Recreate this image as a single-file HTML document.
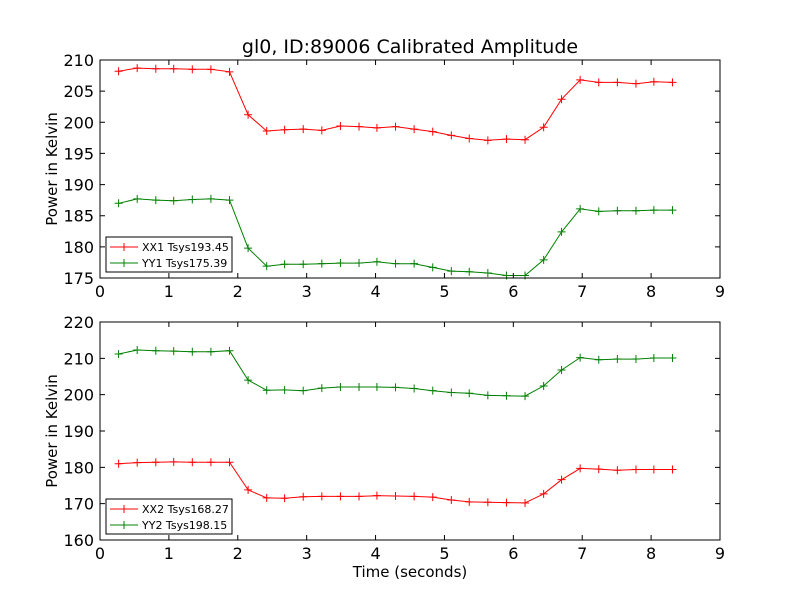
<!DOCTYPE html>
<html><head><meta charset="utf-8"><style>
body{margin:0;background:#fff}
svg{font-family:"DejaVu Sans","Liberation Sans",sans-serif}
</style></head><body>
<svg id="c" width="800" height="600" xmlns="http://www.w3.org/2000/svg">
<rect width="800" height="600" fill="#fff"/>
</svg>
<script>
const times = [0.27,0.54,0.81,1.07,1.34,1.61,1.88,2.15,2.42,2.68,2.95,3.22,3.49,3.76,4.02,4.29,4.56,4.83,5.1,5.36,5.63,5.9,6.17,6.44,6.7,6.97,7.24,7.51,7.78,8.04,8.31];
const xx1 = [208.2,208.7,208.6,208.6,208.5,208.5,208.1,201.2,198.6,198.8,198.9,198.7,199.4,199.3,199.1,199.3,198.9,198.5,197.9,197.4,197.1,197.3,197.2,199.2,203.7,206.8,206.4,206.4,206.2,206.5,206.4];
const yy1 = [187.0,187.7,187.5,187.4,187.6,187.7,187.5,179.8,176.9,177.2,177.2,177.3,177.4,177.4,177.6,177.3,177.3,176.7,176.1,176.0,175.8,175.4,175.4,177.9,182.4,186.1,185.7,185.8,185.8,185.9,185.9];
const xx2 = [181.0,181.3,181.4,181.5,181.4,181.4,181.4,173.8,171.6,171.5,171.9,172.0,172.0,172.0,172.2,172.1,172.0,171.8,171.0,170.5,170.4,170.3,170.2,172.7,176.6,179.7,179.5,179.2,179.4,179.4,179.4];
const yy2 = [211.2,212.3,212.1,212.0,211.8,211.8,212.1,204.0,201.2,201.3,201.1,201.8,202.1,202.1,202.1,202.0,201.7,201.1,200.6,200.4,199.8,199.7,199.6,202.4,206.8,210.2,209.6,209.8,209.8,210.1,210.1];
const xTicks = [0,1,2,3,4,5,6,7,8,9];
const yTicksTop = [175,180,185,190,195,200,205,210];
const yTicksBot = [160,170,180,190,200,210,220];
const legendTop = ["XX1 Tsys193.45","YY1 Tsys175.39"];
const legendBot = ["XX2 Tsys168.27","YY2 Tsys198.15"];

const NS="http://www.w3.org/2000/svg";
const svg=document.getElementById('c');
function mk(tag,attrs,parent){const e=document.createElementNS(NS,tag);for(const k in attrs)e.setAttribute(k,attrs[k]);(parent||svg).appendChild(e);return e;}

function panel(top,bottom,ymin,ymax,yTicks,series,colors,legend,name,showXLabel){
  const L=100,R=720;
  const g=mk('g',{});
  
  
  const xs=v=>L+(v-0)/(9-0)*(R-L);
  const ys=v=>bottom-(v-ymin)/(ymax-ymin)*(bottom-top);
  series.forEach((s,i)=>{
    const sg=mk('g',{},g);
    
    
    const pts=times.map((t,j)=>xs(t).toFixed(1)+','+ys(s[j]).toFixed(1)).join(' ');
    mk('polyline',{points:pts,fill:'none',stroke:colors[i],'stroke-width':1},sg);
    times.forEach((t,j)=>{
      const x=xs(t),y=ys(s[j]);
      const m=mk('path',{d:`M${x-4},${y}H${x+4}M${x},${y-4}V${y+4}`,stroke:colors[i],'stroke-width':1},sg);
      
      
    });
  });
  const fr=mk('rect',{x:L,y:top,width:R-L,height:bottom-top,fill:'none',stroke:'#000','stroke-width':1},g);
  
  
  xTicks.forEach(t=>{
    const x=xs(t);
    mk('path',{d:`M${x},${bottom}v-5M${x},${top}v5`,stroke:'#000'},g);
    const tx=mk('text',{x:x,y:bottom+19,'font-size':16,'text-anchor':'middle'},g);
    tx.textContent=t;
    
    
  });
  yTicks.forEach(t=>{
    const y=ys(t);
    mk('path',{d:`M${L},${y}h5M${R},${y}h-5`,stroke:'#000'},g);
    const tx=mk('text',{x:L-6,y:y+6,'font-size':16,'text-anchor':'end'},g);
    tx.textContent=t;
    
    
  });
  const yl=mk('text',{x:0,y:0,'font-size':15,'text-anchor':'middle',transform:`translate(57,${(top+bottom)/2}) rotate(-90)`},g);
  yl.textContent='Power in Kelvin';
  
  
  const lg=mk('g',{},g);
  
  
  const ly=bottom-41;
  mk('rect',{x:106,y:ly,width:126,height:35,fill:'#fff',stroke:'#000','stroke-width':1},lg);
  legend.forEach((lab,i)=>{
    const yy=ly+10+i*16;
    mk('path',{d:`M110,${yy}H138M124,${yy-4}V${yy+4}`,stroke:colors[i]},lg);
    const tx=mk('text',{x:142,y:yy+4,'font-size':11},lg);
    tx.textContent=lab;
    
    
  });
}
panel(60,278,175,210,yTicksTop,[xx1,yy1],['#ff0000','#008000'],legendTop,'top-plot');
panel(322,540,160,220,yTicksBot,[xx2,yy2],['#ff0000','#008000'],legendBot,'bottom-plot');
const t=mk('text',{x:410,y:53,'font-size':19,'text-anchor':'middle'});
t.textContent='gl0, ID:89006 Calibrated Amplitude';


const xl=mk('text',{x:410,y:577,'font-size':15,'text-anchor':'middle'});
xl.textContent='Time (seconds)';


</script>
</body></html>
